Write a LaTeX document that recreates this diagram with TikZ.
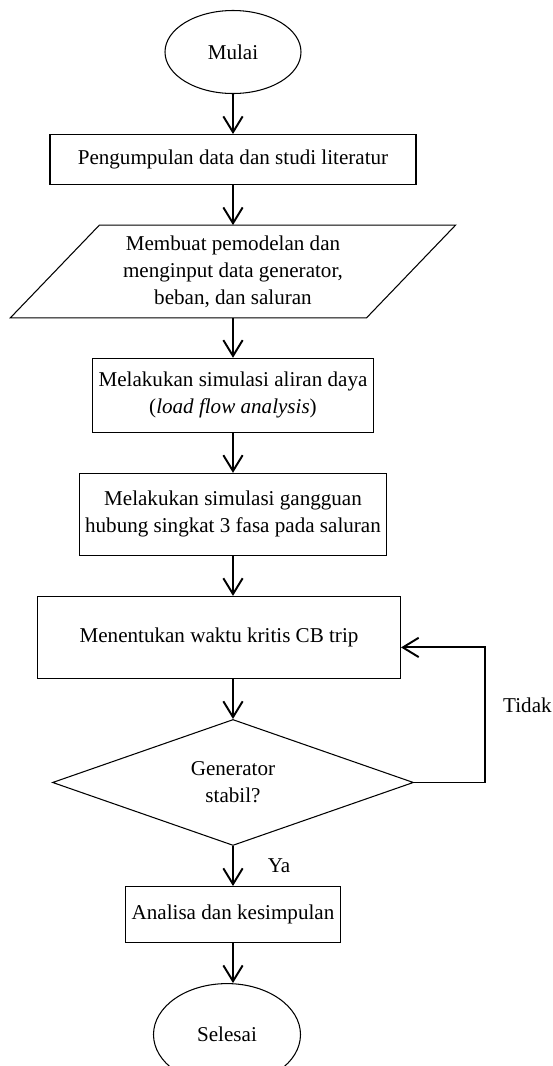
\documentclass[tikz,border=0pt]{standalone}
\usepackage{fontspec}
\setmainfont{Liberation Serif}
\usetikzlibrary{positioning, calc, shapes.geometric, arrows.meta}

\begin{document}
\begin{tikzpicture}[node distance=0.8cm, font=\fontsize{12}{15.3}\selectfont,
    box/.style={rectangle, draw, line width=0.6pt, align=center},
    term/.style={ellipse, draw, line width=0.6pt, inner sep=0pt},
    arr/.style={-{Straight Barb[length=9pt, width=11pt]}, line width=1.1pt}]
    \useasboundingbox (0,0) rectangle (11.06,-21.32);

    \node[term, minimum width=2.72cm, minimum height=1.66cm] (start) at (4.66,-1.04) {Mulai};
    \node[box, minimum width=7.32cm, minimum height=1cm, below=of start] (S1) {Pengumpulan data dan studi literatur};
    \node[align=center, minimum width=7.11cm, minimum height=1.84cm, inner sep=0pt, below=of S1] (S2) {Membuat pemodelan dan\\ menginput data generator,\\ beban, dan saluran};
    \node[box, minimum width=4.32cm, minimum height=1.48cm, below=of S2] (S3) {Melakukan simulasi aliran daya\\ (\textit{load flow analysis})};
    \node[box, minimum width=4.34cm, minimum height=1.64cm, below=of S3] (S4) {Melakukan simulasi gangguan\\ hubung singkat 3 fasa pada saluran};
    \node[box, minimum width=7.26cm, minimum height=1.64cm, below=of S4, xshift=-0.28cm] (S5) {Menentukan waktu kritis CB trip};
    \node[diamond, draw, line width=0.6pt, align=center, inner sep=0pt, minimum width=7.22cm, minimum height=2.52cm, below=of S5, xshift=0.28cm] (D) {Generator\\ stabil?};
    \node[box, minimum width=3.92cm, minimum height=1.12cm, below=of D] (S6) {Analisa dan kesimpulan};
    \node[term, minimum width=2.94cm, minimum height=2.04cm, below=of S6, xshift=-0.12cm] (stop) {Selesai};

    % input/output block
    \draw[line width=0.6pt] ($(S2.north west)+(0.89,0)$) -- ($(S2.north east)+(0.89,0)$)
        -- ($(S2.south east)-(0.89,0)$) -- ($(S2.south west)-(0.89,0)$) -- cycle;

    \draw[arr] (start) -- (S1);
    \draw[arr] (S1) -- (S2);
    \draw[arr] (S2) -- (S3);
    \draw[arr] (S3) -- (S4);
    \draw[arr] (S4.south) -- (S4.south |- S5.north);
    \draw[arr] (S5.south -| D.north) -- (D.north);
    \draw[arr] (D) -- node[midway, right=0.56cm] (yes) {Ya} (S6);
    \draw[arr] (S6.south) -- (S6.south |- stop.north);

    % back to the CB trip step
    \draw[arr] (D.east) -- ++(1.42,0) coordinate (back) |- ($(S5.east)+(0,-0.2)$);
    \node[right=0.24cm of back, yshift=1.54cm] (no) {Tidak};
\end{tikzpicture}
\end{document}
